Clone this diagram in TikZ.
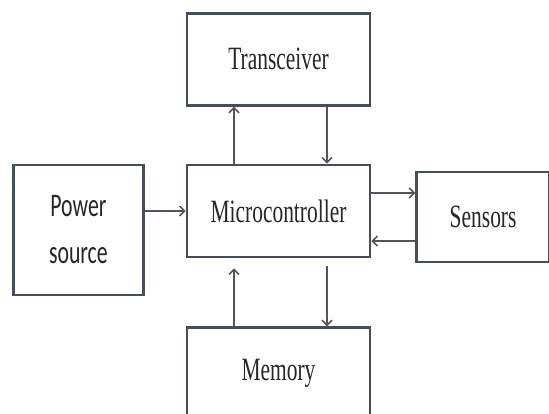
\documentclass[tikz,border=0pt]{standalone}
\usepackage{graphicx}
\usepackage{fontspec}
\setmainfont{Liberation Serif}
\newfontfamily\calfont{Carlito}
\usetikzlibrary{positioning, arrows.meta}
\definecolor{BordeCaja}{RGB}{70,78,90}
\definecolor{Flecha}{RGB}{85,85,85}
\newcommand{\angosto}[1]{\scalebox{0.66}[1]{#1}}

\begin{document}
\begin{tikzpicture}[x=1pt, y=1pt,
    box/.style={draw=BordeCaja, line width=2.6pt, fill=white, align=center, text=black!85, minimum width=183pt, minimum height=92pt, inner sep=0pt, font=\fontsize{32.5}{39}\selectfont},
    arr/.style={-{Straight Barb[length=5pt, width=10pt]}, line width=1.6pt, Flecha},
    node distance=57pt and 41pt
]
    \useasboundingbox (0,0) rectangle (549,-414);
    \clip (0,0) rectangle (549,-414);
    \node[box] (micro) at (278.5,-211) {\angosto{Microcontroller}};
    \node[box, above=57pt of micro] (trans) {\angosto{Transceiver}};
    \node[box, below=68pt of micro] (mem) {\angosto{Memory}};
    \node[box, minimum width=130pt, minimum height=130pt, font=\calfont\fontsize{33}{47}\selectfont, left=41pt of micro.north west, anchor=north east] (power) {\angosto{Power}\\\angosto{source}};
    \node[box, minimum width=133pt, minimum height=90pt, right=44pt of micro, yshift=-6pt] (sens) {\angosto{Sensors}};
    \coordinate (m1) at ([yshift=18pt]micro.east);
    \coordinate (m2) at ([yshift=-30pt]micro.east);
    \draw[arr] ([xshift=-44.5pt]micro.north) -- ([xshift=-44.5pt]trans.south);
    \draw[arr] ([xshift=48.5pt]trans.south) -- ([xshift=48.5pt]micro.north);
    \draw[arr] ([xshift=-44.5pt]mem.north) -- ([xshift=-44.5pt, yshift=-10pt]micro.south);
    \draw[arr] ([xshift=48.5pt, yshift=-8pt]micro.south) -- ([xshift=48.5pt]mem.north);
    \draw[arr] (power.east |- micro.west) -- (micro.west);
    \draw[arr] (m1) -- (m1 -| sens.west);
    \draw[arr] (m2 -| sens.west) -- (m2);
\end{tikzpicture}
\end{document}
